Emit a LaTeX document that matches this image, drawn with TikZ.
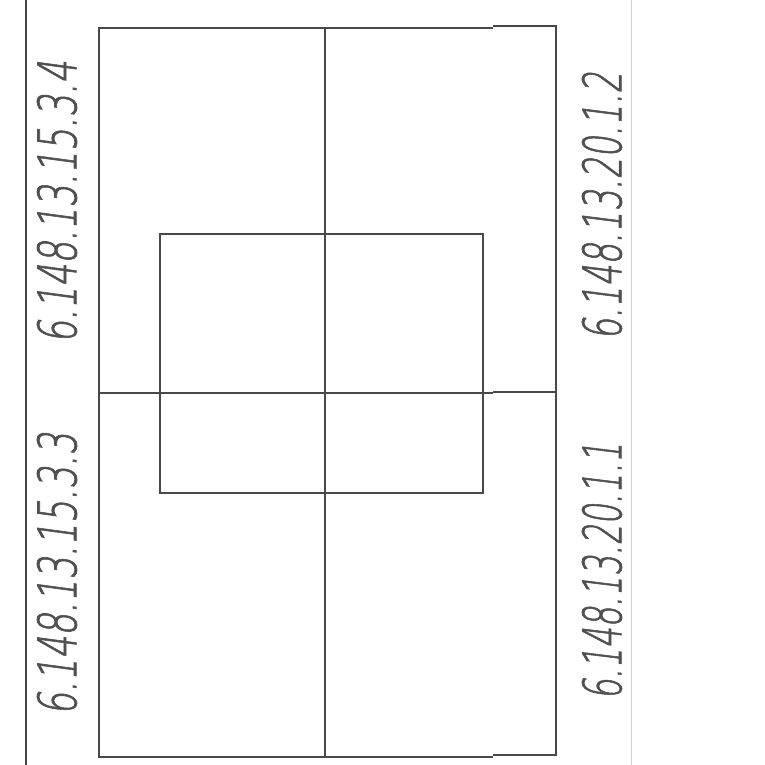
\documentclass[tikz,border=0pt]{standalone}
\usepackage{fontspec}
\newfontfamily\cadfont{DejaVu Sans ExtraLight}[FakeSlant=0.2,FakeBold=1.6]
\definecolor{linegray}{HTML}{484848}
\definecolor{textgray}{HTML}{505050}
\definecolor{lightgray}{HTML}{CFCFCF}
\tikzset{
  frame/.style={draw=linegray, line width=1.6pt},
  sideline/.style={draw=linegray, line width=1.6pt},
  faintline/.style={draw=lightgray, line width=1pt},
  sheetlabel/.style={rotate=90, inner sep=0pt, text=textgray, font=\cadfont\fontsize{53}{60}\selectfont}
}
\begin{document}
\begin{tikzpicture}[x=1pt,y=-1pt]
\useasboundingbox[fill=white] (0,0) rectangle (764,765);
% side lines
\draw[sideline] (26,0) -- (26,765);
\draw[faintline] (631,0) -- (631,765);
% outer frame
\draw[frame] (493,28) -- (99,28) -- (99,757) -- (493,757);
\draw[frame] (493,26) -- (556,26) -- (556,755) -- (493,755);
% dividing lines
\draw[frame] (99,393) -- (493,393);
\draw[frame] (493,392) -- (556,392);
\draw[frame] (325,28) -- (325,757);
% inner rectangle
\draw[frame] (160,234) rectangle (483,493);
% labels
\node[sheetlabel] (lt) at (57,202) {\scalebox{0.67}[1]{6.148.13.15.3.4}};
\node[sheetlabel] (lb) at (57,574) {\scalebox{0.67}[1]{6.148.13.15.3.3}};
\node[sheetlabel] (rt) at (602,206) {\scalebox{0.635}[1]{6.148.13.20.1.2}};
\node[sheetlabel] (rb) at (602,571) {\scalebox{0.61}[1]{6.148.13.20.1.1}};
\end{tikzpicture}
\end{document}
